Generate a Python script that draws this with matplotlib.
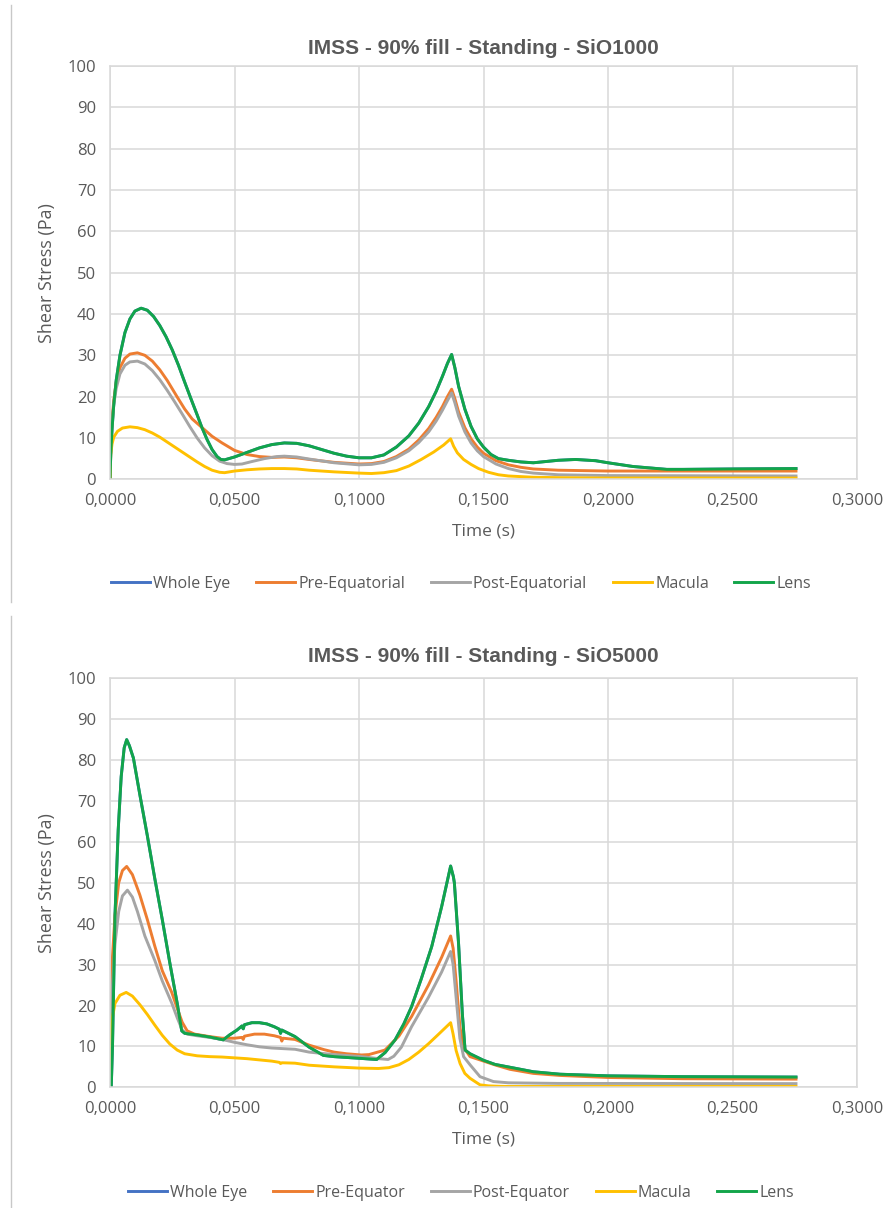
import matplotlib
matplotlib.use("Agg")
import matplotlib.pyplot as plt
from matplotlib.lines import Line2D
from matplotlib.ticker import FuncFormatter, MultipleLocator

# ---------------- SiO1000 (top chart) ----------------
t_lens_1000 = [0.0, 0.0003, 0.0008, 0.0015, 0.0025, 0.004, 0.006, 0.008, 0.010, 0.0125,
               0.015, 0.0175, 0.020, 0.0225, 0.025, 0.0275, 0.030, 0.0325, 0.035, 0.0368,
               0.039, 0.041, 0.043, 0.0445, 0.046, 0.050, 0.055, 0.060, 0.065, 0.070,
               0.075, 0.080, 0.085, 0.090, 0.095, 0.100, 0.105, 0.110, 0.115, 0.120,
               0.124, 0.128, 0.131, 0.1335, 0.1355, 0.1372, 0.1385, 0.140, 0.1425, 0.145,
               0.1475, 0.150, 0.153, 0.156, 0.160, 0.165, 0.170, 0.175, 0.180, 0.187,
               0.195, 0.200, 0.210, 0.2236, 0.230, 0.250, 0.2755]
lens_1000 = [0, 6, 12, 18, 24, 30, 35.5, 38.8, 40.7, 41.4,
             40.9, 39.4, 37.2, 34.5, 31.3, 27.6, 23.5, 19.5, 15.6, 12.7,
             9.6, 7.2, 5.5, 4.8, 4.7, 5.4, 6.5, 7.6, 8.4, 8.8,
             8.7, 8.1, 7.2, 6.3, 5.6, 5.2, 5.2, 5.9, 7.8, 10.5,
             13.6, 17.6, 21.3, 24.9, 28.0, 30.2, 27.0, 22.5, 17.0, 12.8,
             9.8, 7.8, 6.0, 5.0, 4.6, 4.2, 4.0, 4.3, 4.6, 4.8,
             4.5, 4.0, 3.1, 2.4, 2.4, 2.5, 2.6]

t_pre_1000 = [0.0, 0.0003, 0.0008, 0.0015, 0.0025, 0.004, 0.006, 0.008, 0.011, 0.014,
              0.017, 0.020, 0.023, 0.0248, 0.027, 0.030, 0.033, 0.0368, 0.041, 0.045,
              0.050, 0.055, 0.060, 0.065, 0.070, 0.075, 0.080, 0.090, 0.100, 0.105,
              0.110, 0.115, 0.120, 0.124, 0.128, 0.131, 0.1335, 0.1355, 0.1372, 0.1385,
              0.140, 0.1425, 0.145, 0.1475, 0.150, 0.155, 0.160, 0.165, 0.170, 0.180,
              0.190, 0.200, 0.2755]
pre_1000 = [0, 8, 14, 19, 23.5, 27, 29.3, 30.3, 30.6, 30.0,
            28.6, 26.5, 23.9, 22.1, 19.9, 17.0, 14.6, 12.6, 10.4, 8.8,
            7.0, 6.0, 5.5, 5.3, 5.4, 5.2, 4.8, 4.1, 3.7, 3.8,
            4.3, 5.5, 7.3, 9.5, 12.3, 15.0, 17.6, 20.0, 21.8, 19.5,
            16.3, 12.5, 9.8, 7.8, 6.3, 4.5, 3.5, 2.9, 2.5, 2.2,
            2.1, 2.0, 2.0]

t_post_1000 = [0.0, 0.0003, 0.0008, 0.0015, 0.0025, 0.004, 0.006, 0.008, 0.011, 0.014,
               0.017, 0.020, 0.023, 0.026, 0.029, 0.032, 0.035, 0.038, 0.041, 0.044,
               0.047, 0.050, 0.053, 0.057, 0.062, 0.067, 0.070, 0.075, 0.080, 0.090,
               0.100, 0.105, 0.110, 0.115, 0.120, 0.124, 0.128, 0.131, 0.1335, 0.1355,
               0.1372, 0.1385, 0.140, 0.1425, 0.145, 0.1475, 0.150, 0.155, 0.160, 0.165,
               0.170, 0.180, 0.200, 0.2755]
post_1000 = [0, 7, 13, 18, 22, 25.5, 27.6, 28.4, 28.6, 27.9,
             26.3, 24.1, 21.5, 18.7, 15.8, 12.8, 10.0, 7.6, 5.7, 4.4,
             3.8, 3.6, 3.7, 4.3, 5.0, 5.5, 5.6, 5.4, 4.9, 4.0,
             3.5, 3.6, 4.1, 5.2, 6.9, 8.9, 11.5, 14.1, 16.7, 19.0,
             20.9, 18.5, 15.3, 11.5, 8.8, 6.9, 5.5, 3.7, 2.6, 1.9,
             1.5, 1.1, 0.9, 0.8]

t_mac_1000 = [0.0, 0.0003, 0.0008, 0.0015, 0.003, 0.005, 0.008, 0.011, 0.014, 0.017,
              0.020, 0.023, 0.026, 0.029, 0.032, 0.035, 0.038, 0.041, 0.044, 0.046,
              0.050, 0.055, 0.060, 0.065, 0.070, 0.075, 0.080, 0.090, 0.100, 0.105,
              0.110, 0.115, 0.120, 0.125, 0.130, 0.134, 0.1368, 0.138, 0.1395, 0.142,
              0.145, 0.148, 0.152, 0.156, 0.160, 0.170, 0.180, 0.200, 0.2755]
mac_1000 = [0, 6, 8.5, 10.2, 11.6, 12.4, 12.7, 12.5, 12.0, 11.2,
            10.2, 9.0, 7.8, 6.6, 5.4, 4.2, 3.1, 2.2, 1.7, 1.6,
            2.0, 2.3, 2.5, 2.6, 2.6, 2.5, 2.2, 1.8, 1.5, 1.4,
            1.6, 2.1, 3.2, 4.8, 6.6, 8.3, 9.8, 8.0, 6.4, 4.8,
            3.6, 2.6, 1.7, 1.1, 0.8, 0.5, 0.4, 0.3, 0.3]

# Whole Eye is hidden under Lens in the reference
t_whole_1000 = t_lens_1000
whole_1000 = lens_1000

# ---------------- SiO5000 (bottom chart) ----------------
t_lens_5000 = [0.0, 0.0005, 0.001, 0.002, 0.0033, 0.0045, 0.0057, 0.0067, 0.0078, 0.0094,
               0.012, 0.015, 0.018, 0.021, 0.024, 0.027, 0.0288, 0.030, 0.035,
               0.040, 0.0455, 0.048, 0.051, 0.053, 0.0535, 0.054, 0.057, 0.060, 0.063,
               0.066, 0.068, 0.0685, 0.069, 0.0743, 0.080, 0.0857, 0.090, 0.095, 0.100,
               0.1071, 0.1105, 0.1145, 0.118, 0.1211, 0.125, 0.1292, 0.1332, 0.1368, 0.1379,
               0.1383, 0.140, 0.1415, 0.1426, 0.1446, 0.150, 0.1546, 0.1606, 0.170, 0.1807,
               0.200, 0.230, 0.2755]
lens_5000 = [0, 0, 10, 42, 63, 76, 83, 85, 83.5, 80.5,
             71.5, 61.5, 51, 41, 30.5, 20.5, 13.8, 13.2, 12.8,
             12.3, 11.6, 12.8, 14.0, 15.0, 14.3, 15.3, 15.8, 15.8, 15.5,
             14.8, 14.2, 13.2, 14.0, 12.4, 9.8, 7.8, 7.5, 7.3, 7.1,
             6.8, 8.5, 11.6, 15.5, 19.7, 26.5, 34.4, 44.2, 54.1, 51.5,
             50, 35, 18, 9.1, 8.2, 6.6, 5.6, 4.9, 3.8, 3.2,
             2.8, 2.6, 2.5]

t_pre_5000 = [0.0, 0.0004, 0.001, 0.002, 0.0035, 0.005, 0.0067, 0.009, 0.012, 0.015,
              0.018, 0.021, 0.0248, 0.027, 0.029, 0.031, 0.034, 0.040, 0.045, 0.050,
              0.053, 0.0535, 0.054, 0.058, 0.062, 0.066, 0.0685, 0.069, 0.0695, 0.0743,
              0.080, 0.086, 0.090, 0.095, 0.101, 0.104, 0.1104, 0.116, 0.1211, 0.1279,
              0.1332, 0.1368, 0.1378, 0.139, 0.1405, 0.1418, 0.1446, 0.1486, 0.155, 0.1606,
              0.170, 0.1807, 0.200, 0.230, 0.2755]
pre_5000 = [0, 15, 32, 42, 50, 53, 54, 52, 47, 41,
            34.5, 28.5, 23.2, 19.3, 15.9, 13.8, 13.0, 12.4, 12.0, 12.0,
            12.2, 11.7, 12.5, 13.0, 13.0, 12.6, 12.2, 11.3, 12.0, 11.7,
            10.3, 9.2, 8.6, 8.2, 7.9, 8.0, 9.1, 12.5, 17.3, 25.0,
            31.8, 37.0, 34, 26, 15, 10, 7.5, 6.7, 5.4, 4.4,
            3.4, 2.9, 2.4, 2.1, 2.0]

t_post_5000 = [0.0, 0.0004, 0.001, 0.002, 0.0035, 0.005, 0.007, 0.009, 0.011, 0.014,
               0.018, 0.021, 0.0248, 0.027, 0.029, 0.031, 0.035, 0.040, 0.045, 0.050,
               0.055, 0.060, 0.065, 0.0743, 0.080, 0.090, 0.101, 0.108, 0.1117, 0.114,
               0.117, 0.1211, 0.1279, 0.1332, 0.1368, 0.1378, 0.139, 0.1405, 0.142, 0.1446,
               0.1486, 0.154, 0.160, 0.180, 0.2755]
post_5000 = [0, 12, 25, 35, 43, 46.8, 48.2, 46.5, 43, 37,
             31, 26, 20.6, 17, 14, 13.0, 12.6, 12.2, 11.7, 11.0,
             10.4, 9.9, 9.6, 9.3, 8.6, 8.0, 7.5, 7.0, 6.8, 7.6,
             9.8, 14.8, 22.0, 28.2, 33.2, 30, 22, 12, 7.5, 5.5,
             2.6, 1.4, 1.1, 0.95, 0.9]

t_mac_5000 = [0.0, 0.0004, 0.002, 0.004, 0.0065, 0.009, 0.012, 0.015, 0.018, 0.021,
              0.024, 0.027, 0.030, 0.035, 0.040, 0.045, 0.050, 0.055, 0.060, 0.065,
              0.068, 0.0685, 0.069, 0.0743, 0.080, 0.090, 0.100, 0.1078, 0.112, 0.116,
              0.120, 0.124, 0.128, 0.132, 0.1368, 0.1378, 0.139, 0.1406, 0.1425, 0.1446,
              0.1486, 0.152, 0.156, 0.160, 0.2755]
mac_5000 = [0, 15, 20.5, 22.5, 23.2, 22.3, 20.2, 17.8, 15.2, 12.7,
            10.6, 9.1, 8.2, 7.7, 7.5, 7.4, 7.2, 7.0, 6.7, 6.4,
            6.1, 5.8, 6.0, 5.9, 5.4, 5.0, 4.7, 4.6, 4.8, 5.5,
            6.8, 8.6, 10.7, 13.0, 15.8, 13, 9, 5.8, 3.4, 2.2,
            0.6, 0.35, 0.25, 0.2, 0.2]

t_whole_5000 = t_lens_5000
whole_5000 = lens_5000

names_1000 = ["Whole Eye", "Pre-Equatorial", "Post-Equatorial", "Macula", "Lens"]
names_5000 = ["Whole Eye", "Pre-Equator", "Post-Equator", "Macula", "Lens"]
colors = ["#4472C4", "#ED7D31", "#A5A5A5", "#FFC000", "#12A54A"]
x_ticks = [0.0, 0.05, 0.10, 0.15, 0.20, 0.25, 0.30]

TXT = "#595959"
GRID = "#D9D9D9"
BODY = ["Open Sans", "DejaVu Sans"]
TITLE_FONT = ["Liberation Sans Narrow", "Liberation Sans", "DejaVu Sans"]

W, H = 896, 1208
fig = plt.figure(figsize=(W / 100, H / 100), dpi=100)


def comma_fmt(v, pos):
    return ("%.4f" % v).replace(".", ",")


def draw_panel(box, title, series, names, legend_y, title_y, xlabel_y):
    x0, y0, x1, y1 = box
    ax = fig.add_axes([x0 / W, 1 - y1 / H, (x1 - x0) / W, (y1 - y0) / H])
    handles = []
    for (t, v), name, c in zip(series, names, colors):
        h, = ax.plot(t, v, color=c, lw=2.1, label=name, solid_joinstyle="round")
        handles.append(h)
    ax.set_xlim(0, 0.3)
    ax.set_ylim(0, 100)
    ax.set_xticks(x_ticks)
    ax.yaxis.set_major_locator(MultipleLocator(10))
    ax.xaxis.set_major_formatter(FuncFormatter(comma_fmt))
    ax.grid(True, color=GRID, lw=1.1)
    ax.set_axisbelow(True)
    for s in ax.spines.values():
        s.set_color(GRID)
        s.set_linewidth(1.1)
    ax.tick_params(length=0, colors=TXT, labelsize=12, pad=10)
    for lab in ax.get_xticklabels() + ax.get_yticklabels():
        lab.set_family(BODY)
    cx = (x0 + x1) / 2 / W
    fig.text(cx, 1 - title_y / H, title, ha="center", va="center", fontsize=15,
             fontweight="bold", color=TXT, family=TITLE_FONT)
    fig.text(cx, 1 - xlabel_y / H, "Time (s)", ha="center", va="center",
             fontsize=12.5, color=TXT, family=BODY)
    fig.text(47 / W, 1 - (y0 + y1) / 2 / H, "Shear Stress (Pa)", ha="center",
             va="center", rotation=90, fontsize=13, color=TXT, family=BODY)
    leg = fig.legend(handles=handles, loc="center", bbox_to_anchor=(461 / W, 1 - legend_y / H),
                     ncol=5, frameon=False, handlelength=2.45, handletextpad=0.2,
                     columnspacing=1.6, prop={"family": BODY, "size": 11.5})
    for txt in leg.get_texts():
        txt.set_color(TXT)
    return ax


draw_panel((110, 66, 857, 479.3), "IMSS - 90% fill - Standing - SiO1000",
           [(t_whole_1000, whole_1000), (t_pre_1000, pre_1000), (t_post_1000, post_1000),
            (t_mac_1000, mac_1000), (t_lens_1000, lens_1000)],
           names_1000, legend_y=584, title_y=49, xlabel_y=532)

draw_panel((110, 678.3, 857, 1087.3), "IMSS - 90% fill - Standing - SiO5000",
           [(t_whole_5000, whole_5000), (t_pre_5000, pre_5000), (t_post_5000, post_5000),
            (t_mac_5000, mac_5000), (t_lens_5000, lens_5000)],
           names_5000, legend_y=1193, title_y=657, xlabel_y=1140)

# thin document border lines on the left of each picture
fig.add_artist(Line2D([11 / W, 11 / W], [1 - 5 / H, 1 - 602 / H], transform=fig.transFigure,
                      color="#C8C8C8", lw=1))
fig.add_artist(Line2D([11 / W, 11 / W], [1 - 616 / H, 0], transform=fig.transFigure,
                      color="#C8C8C8", lw=1))

fig.savefig("out.png", dpi=100, facecolor="white")
